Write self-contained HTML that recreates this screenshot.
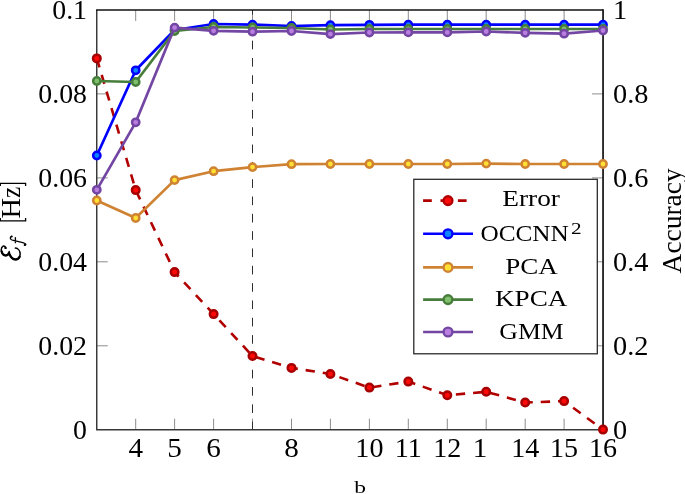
<!DOCTYPE html>
<html><head><meta charset="utf-8"><title>chart</title>
<style>
html,body{margin:0;padding:0;background:#fff;}
body{width:685px;height:494px;overflow:hidden;position:relative;font-family:"Liberation Serif",serif;}
svg text{font-family:"Liberation Serif",serif;fill:#000;}
svg text{filter:grayscale(1);}
</style></head><body>
<svg width="685" height="494" viewBox="0 0 685 494" style="position:absolute;left:0;top:0">
<rect width="685" height="494" fill="#fff"/>
<g stroke="#808080" stroke-width="0.9" fill="none"><path d="M135.7 429.7 v-11 M135.7 10.0 v11"/><path d="M174.6 429.7 v-11 M174.6 10.0 v11"/><path d="M213.6 429.7 v-11 M213.6 10.0 v11"/><path d="M252.5 429.7 v-11 M252.5 10.0 v11"/><path d="M291.5 429.7 v-11 M291.5 10.0 v11"/><path d="M330.4 429.7 v-11 M330.4 10.0 v11"/><path d="M369.4 429.7 v-11 M369.4 10.0 v11"/><path d="M408.3 429.7 v-11 M408.3 10.0 v11"/><path d="M447.3 429.7 v-11 M447.3 10.0 v11"/><path d="M486.2 429.7 v-11 M486.2 10.0 v11"/><path d="M525.2 429.7 v-11 M525.2 10.0 v11"/><path d="M564.1 429.7 v-11 M564.1 10.0 v11"/><path d="M96.75 345.8 h11 M603.05 345.8 h-11"/><path d="M96.75 261.8 h11 M603.05 261.8 h-11"/><path d="M96.75 177.9 h11 M603.05 177.9 h-11"/><path d="M96.75 93.9 h11 M603.05 93.9 h-11"/></g>
<path d="M252.5 10.0 V429.7" stroke="#2e2e2e" stroke-width="1.0" stroke-dasharray="8.66 8.66" stroke-dashoffset="4.0" fill="none"/>
<path d="M96.75 10.0 V429.7" stroke="#303030" stroke-width="1.4" fill="none"/>
<path d="M96.05 429.7 H603.05" stroke="#383838" stroke-width="1.6" fill="none"/>
<polyline points="96.8,58.4 135.7,190.1 174.6,272.1 213.6,314.1 252.5,356.0 291.5,367.9 330.4,374.0 369.4,387.6 408.3,381.6 447.3,395.2 486.2,391.8 525.2,402.5 564.1,401.1 603.0,429.6" fill="none" stroke="#b00000" stroke-width="2.6" stroke-dasharray="9.32 7.97" />
<path d="M96.05 10.0 H603.05" stroke="#111" stroke-width="1.4" fill="none"/>
<path d="M603.05 9.3 V430.5" stroke="#111" stroke-width="1.7" fill="none"/>
<circle cx="96.8" cy="58.4" r="3.75" fill="#ff0808" stroke="#a60000" stroke-width="2.5"/><circle cx="135.7" cy="190.1" r="3.75" fill="#ff0808" stroke="#a60000" stroke-width="2.5"/><circle cx="174.6" cy="272.1" r="3.75" fill="#ff0808" stroke="#a60000" stroke-width="2.5"/><circle cx="213.6" cy="314.1" r="3.75" fill="#ff0808" stroke="#a60000" stroke-width="2.5"/><circle cx="252.5" cy="356.0" r="3.75" fill="#ff0808" stroke="#a60000" stroke-width="2.5"/><circle cx="291.5" cy="367.9" r="3.75" fill="#ff0808" stroke="#a60000" stroke-width="2.5"/><circle cx="330.4" cy="374.0" r="3.75" fill="#ff0808" stroke="#a60000" stroke-width="2.5"/><circle cx="369.4" cy="387.6" r="3.75" fill="#ff0808" stroke="#a60000" stroke-width="2.5"/><circle cx="408.3" cy="381.6" r="3.75" fill="#ff0808" stroke="#a60000" stroke-width="2.5"/><circle cx="447.3" cy="395.2" r="3.75" fill="#ff0808" stroke="#a60000" stroke-width="2.5"/><circle cx="486.2" cy="391.8" r="3.75" fill="#ff0808" stroke="#a60000" stroke-width="2.5"/><circle cx="525.2" cy="402.5" r="3.75" fill="#ff0808" stroke="#a60000" stroke-width="2.5"/><circle cx="564.1" cy="401.1" r="3.75" fill="#ff0808" stroke="#a60000" stroke-width="2.5"/><circle cx="603.0" cy="429.6" r="3.75" fill="#ff0808" stroke="#a60000" stroke-width="2.5"/>
<polyline points="96.8,155.5 135.7,70.3 174.6,30.0 213.6,24.0 252.5,24.6 291.5,26.0 330.4,25.2 369.4,24.8 408.3,24.7 447.3,24.7 486.2,24.7 525.2,24.7 564.1,24.7 603.0,24.7" fill="none" stroke="#0000ff" stroke-width="2.7" stroke-linejoin="round"/>
<circle cx="96.8" cy="155.5" r="3.65" fill="#0a84ff" stroke="#0000ff" stroke-width="2.5"/><circle cx="135.7" cy="70.3" r="3.65" fill="#0a84ff" stroke="#0000ff" stroke-width="2.5"/><circle cx="174.6" cy="30.0" r="3.65" fill="#0a84ff" stroke="#0000ff" stroke-width="2.5"/><circle cx="213.6" cy="24.0" r="3.65" fill="#0a84ff" stroke="#0000ff" stroke-width="2.5"/><circle cx="252.5" cy="24.6" r="3.65" fill="#0a84ff" stroke="#0000ff" stroke-width="2.5"/><circle cx="291.5" cy="26.0" r="3.65" fill="#0a84ff" stroke="#0000ff" stroke-width="2.5"/><circle cx="330.4" cy="25.2" r="3.65" fill="#0a84ff" stroke="#0000ff" stroke-width="2.5"/><circle cx="369.4" cy="24.8" r="3.65" fill="#0a84ff" stroke="#0000ff" stroke-width="2.5"/><circle cx="408.3" cy="24.7" r="3.65" fill="#0a84ff" stroke="#0000ff" stroke-width="2.5"/><circle cx="447.3" cy="24.7" r="3.65" fill="#0a84ff" stroke="#0000ff" stroke-width="2.5"/><circle cx="486.2" cy="24.7" r="3.65" fill="#0a84ff" stroke="#0000ff" stroke-width="2.5"/><circle cx="525.2" cy="24.7" r="3.65" fill="#0a84ff" stroke="#0000ff" stroke-width="2.5"/><circle cx="564.1" cy="24.7" r="3.65" fill="#0a84ff" stroke="#0000ff" stroke-width="2.5"/><circle cx="603.0" cy="24.7" r="3.65" fill="#0a84ff" stroke="#0000ff" stroke-width="2.5"/>
<polyline points="96.8,200.5 135.7,218.0 174.6,180.1 213.6,171.2 252.5,167.1 291.5,164.2 330.4,164.0 369.4,164.0 408.3,164.0 447.3,164.0 486.2,163.6 525.2,164.0 564.1,164.0 603.0,164.0" fill="none" stroke="#cf8232" stroke-width="2.7" stroke-linejoin="round"/>
<circle cx="96.8" cy="200.5" r="3.65" fill="#ffe033" stroke="#cf8232" stroke-width="2.5"/><circle cx="135.7" cy="218.0" r="3.65" fill="#ffe033" stroke="#cf8232" stroke-width="2.5"/><circle cx="174.6" cy="180.1" r="3.65" fill="#ffe033" stroke="#cf8232" stroke-width="2.5"/><circle cx="213.6" cy="171.2" r="3.65" fill="#ffe033" stroke="#cf8232" stroke-width="2.5"/><circle cx="252.5" cy="167.1" r="3.65" fill="#ffe033" stroke="#cf8232" stroke-width="2.5"/><circle cx="291.5" cy="164.2" r="3.65" fill="#ffe033" stroke="#cf8232" stroke-width="2.5"/><circle cx="330.4" cy="164.0" r="3.65" fill="#ffe033" stroke="#cf8232" stroke-width="2.5"/><circle cx="369.4" cy="164.0" r="3.65" fill="#ffe033" stroke="#cf8232" stroke-width="2.5"/><circle cx="408.3" cy="164.0" r="3.65" fill="#ffe033" stroke="#cf8232" stroke-width="2.5"/><circle cx="447.3" cy="164.0" r="3.65" fill="#ffe033" stroke="#cf8232" stroke-width="2.5"/><circle cx="486.2" cy="163.6" r="3.65" fill="#ffe033" stroke="#cf8232" stroke-width="2.5"/><circle cx="525.2" cy="164.0" r="3.65" fill="#ffe033" stroke="#cf8232" stroke-width="2.5"/><circle cx="564.1" cy="164.0" r="3.65" fill="#ffe033" stroke="#cf8232" stroke-width="2.5"/><circle cx="603.0" cy="164.0" r="3.65" fill="#ffe033" stroke="#cf8232" stroke-width="2.5"/>
<polyline points="96.8,81.0 135.7,82.0 174.6,31.0 213.6,27.0 252.5,27.5 291.5,28.0 330.4,29.5 369.4,29.0 408.3,29.0 447.3,29.0 486.2,29.0 525.2,29.0 564.1,29.0 603.0,29.0" fill="none" stroke="#477d3a" stroke-width="2.7" stroke-linejoin="round"/>
<circle cx="96.8" cy="81.0" r="3.65" fill="#80c06c" stroke="#477d3a" stroke-width="2.5"/><circle cx="135.7" cy="82.0" r="3.65" fill="#80c06c" stroke="#477d3a" stroke-width="2.5"/><circle cx="174.6" cy="31.0" r="3.65" fill="#80c06c" stroke="#477d3a" stroke-width="2.5"/><circle cx="213.6" cy="27.0" r="3.65" fill="#80c06c" stroke="#477d3a" stroke-width="2.5"/><circle cx="252.5" cy="27.5" r="3.65" fill="#80c06c" stroke="#477d3a" stroke-width="2.5"/><circle cx="291.5" cy="28.0" r="3.65" fill="#80c06c" stroke="#477d3a" stroke-width="2.5"/><circle cx="330.4" cy="29.5" r="3.65" fill="#80c06c" stroke="#477d3a" stroke-width="2.5"/><circle cx="369.4" cy="29.0" r="3.65" fill="#80c06c" stroke="#477d3a" stroke-width="2.5"/><circle cx="408.3" cy="29.0" r="3.65" fill="#80c06c" stroke="#477d3a" stroke-width="2.5"/><circle cx="447.3" cy="29.0" r="3.65" fill="#80c06c" stroke="#477d3a" stroke-width="2.5"/><circle cx="486.2" cy="29.0" r="3.65" fill="#80c06c" stroke="#477d3a" stroke-width="2.5"/><circle cx="525.2" cy="29.0" r="3.65" fill="#80c06c" stroke="#477d3a" stroke-width="2.5"/><circle cx="564.1" cy="29.0" r="3.65" fill="#80c06c" stroke="#477d3a" stroke-width="2.5"/><circle cx="603.0" cy="29.0" r="3.65" fill="#80c06c" stroke="#477d3a" stroke-width="2.5"/>
<polyline points="96.8,189.8 135.7,122.3 174.6,27.6 213.6,30.8 252.5,31.7 291.5,31.0 330.4,34.1 369.4,32.5 408.3,32.4 447.3,32.4 486.2,31.5 525.2,32.8 564.1,33.7 603.0,30.5" fill="none" stroke="#7346a3" stroke-width="2.7" stroke-linejoin="round"/>
<circle cx="96.8" cy="189.8" r="3.65" fill="#b97ee0" stroke="#7346a3" stroke-width="2.5"/><circle cx="135.7" cy="122.3" r="3.65" fill="#b97ee0" stroke="#7346a3" stroke-width="2.5"/><circle cx="174.6" cy="27.6" r="3.65" fill="#b97ee0" stroke="#7346a3" stroke-width="2.5"/><circle cx="213.6" cy="30.8" r="3.65" fill="#b97ee0" stroke="#7346a3" stroke-width="2.5"/><circle cx="252.5" cy="31.7" r="3.65" fill="#b97ee0" stroke="#7346a3" stroke-width="2.5"/><circle cx="291.5" cy="31.0" r="3.65" fill="#b97ee0" stroke="#7346a3" stroke-width="2.5"/><circle cx="330.4" cy="34.1" r="3.65" fill="#b97ee0" stroke="#7346a3" stroke-width="2.5"/><circle cx="369.4" cy="32.5" r="3.65" fill="#b97ee0" stroke="#7346a3" stroke-width="2.5"/><circle cx="408.3" cy="32.4" r="3.65" fill="#b97ee0" stroke="#7346a3" stroke-width="2.5"/><circle cx="447.3" cy="32.4" r="3.65" fill="#b97ee0" stroke="#7346a3" stroke-width="2.5"/><circle cx="486.2" cy="31.5" r="3.65" fill="#b97ee0" stroke="#7346a3" stroke-width="2.5"/><circle cx="525.2" cy="32.8" r="3.65" fill="#b97ee0" stroke="#7346a3" stroke-width="2.5"/><circle cx="564.1" cy="33.7" r="3.65" fill="#b97ee0" stroke="#7346a3" stroke-width="2.5"/><circle cx="603.0" cy="30.5" r="3.65" fill="#b97ee0" stroke="#7346a3" stroke-width="2.5"/>
<rect x="413.8" y="179.3" width="183.5" height="174.5" fill="#fff" stroke="#222" stroke-width="1.25"/>
<path d="M423.1 200.6 H473" stroke="#b00000" stroke-width="2.6" stroke-dasharray="8.7 8.7" fill="none"/>
<circle cx="448" cy="200.6" r="4.4" fill="#ff0808" stroke="#b00000" stroke-width="2.4"/>
<text x="502.3" y="206.2" font-size="23.5" textLength="57.6" lengthAdjust="spacingAndGlyphs">Error</text>
<path d="M423.1 233.8 H473" stroke="#0000ff" stroke-width="2.6" fill="none"/>
<circle cx="448" cy="233.8" r="4.4" fill="#0a84ff" stroke="#0000ff" stroke-width="2.4"/>
<text x="480.4" y="240.7" font-size="23.5" textLength="88.4" lengthAdjust="spacingAndGlyphs">OCCNN</text>
<text x="571.0" y="233.7" font-size="16.5" textLength="10.6" lengthAdjust="spacingAndGlyphs">2</text>
<path d="M423.1 267.4 H473" stroke="#cf8232" stroke-width="2.6" fill="none"/>
<circle cx="448" cy="267.4" r="4.4" fill="#ffe033" stroke="#cf8232" stroke-width="2.4"/>
<text x="505.2" y="273.7" font-size="23.5" textLength="52.6" lengthAdjust="spacingAndGlyphs">PCA</text>
<path d="M423.1 299.6 H473" stroke="#477d3a" stroke-width="2.6" fill="none"/>
<circle cx="448" cy="299.6" r="4.4" fill="#80c06c" stroke="#477d3a" stroke-width="2.4"/>
<text x="495.0" y="306.2" font-size="23.5" textLength="72.4" lengthAdjust="spacingAndGlyphs">KPCA</text>
<path d="M423.1 332.0 H473" stroke="#7346a3" stroke-width="2.6" fill="none"/>
<circle cx="448" cy="332.0" r="4.4" fill="#b97ee0" stroke="#7346a3" stroke-width="2.4"/>
<text x="499.3" y="338.5" font-size="23.5" textLength="64.4" lengthAdjust="spacingAndGlyphs">GMM</text>
<text transform="translate(135.70,457.30) scale(1.1,1)" font-size="26.5" text-anchor="middle">4</text>
<text transform="translate(174.64,457.30) scale(1.1,1)" font-size="26.5" text-anchor="middle">5</text>
<text transform="translate(213.59,457.30) scale(1.1,1)" font-size="26.5" text-anchor="middle">6</text>
<text transform="translate(291.48,457.30) scale(1.1,1)" font-size="26.5" text-anchor="middle">8</text>
<text transform="translate(369.37,457.30) scale(1.06,1)" font-size="26.5" text-anchor="middle">10</text>
<text transform="translate(408.32,457.30) scale(1.06,1)" font-size="26.5" text-anchor="middle">11</text>
<text transform="translate(447.27,457.30) scale(1.06,1)" font-size="26.5" text-anchor="middle">12</text>
<text transform="translate(525.16,457.30) scale(1.06,1)" font-size="26.5" text-anchor="middle">14</text>
<text transform="translate(564.10,457.30) scale(1.06,1)" font-size="26.5" text-anchor="middle">15</text>
<text transform="translate(603.05,457.30) scale(1.06,1)" font-size="26.5" text-anchor="middle">16</text>
<text transform="translate(479.91,457.30) scale(1.1,1)" font-size="26.5" text-anchor="middle">1</text>
<text transform="translate(87.00,438.50) scale(1.05,1)" font-size="26.5" text-anchor="end">0</text>
<text transform="translate(87.00,354.56) scale(1.05,1)" font-size="26.5" text-anchor="end">0.02</text>
<text transform="translate(87.00,270.62) scale(1.05,1)" font-size="26.5" text-anchor="end">0.04</text>
<text transform="translate(87.00,186.68) scale(1.05,1)" font-size="26.5" text-anchor="end">0.06</text>
<text transform="translate(87.00,102.74) scale(1.05,1)" font-size="26.5" text-anchor="end">0.08</text>
<text transform="translate(87.00,18.80) scale(1.05,1)" font-size="26.5" text-anchor="end">0.1</text>
<text transform="translate(613.00,438.50) scale(1.07,1)" font-size="26.5" text-anchor="start">0</text>
<text transform="translate(613.00,354.56) scale(1.07,1)" font-size="26.5" text-anchor="start">0.2</text>
<text transform="translate(613.00,270.62) scale(1.07,1)" font-size="26.5" text-anchor="start">0.4</text>
<text transform="translate(613.00,186.68) scale(1.07,1)" font-size="26.5" text-anchor="start">0.6</text>
<text transform="translate(613.00,102.74) scale(1.07,1)" font-size="26.5" text-anchor="start">0.8</text>
<text transform="translate(613.00,18.80) scale(1.07,1)" font-size="26.5" text-anchor="start">1</text>
<text transform="translate(680.6,273.4) rotate(-90)" font-size="27" textLength="105" lengthAdjust="spacingAndGlyphs">Accuracy</text>
<g transform="translate(19.8,260.3) rotate(-90)"><path d="M12.2 -14.0 C13.6 -14.4 14.6 -15.6 14.0 -16.9 C13.2 -18.3 11.5 -18.6 10.0 -18.5 C7.0 -18.3 4.6 -16.4 4.6 -14.0 C4.6 -12.0 6.2 -10.8 8.8 -10.6 C5.0 -10.4 0.6 -8.0 0.5 -4.0 C0.4 -1.2 3.0 0.3 6.5 0.3 C9.5 0.3 12.0 -1.8 12.2 -4.4" fill="none" stroke="#000" stroke-width="1.5" stroke-linecap="round" stroke-linejoin="round"/><path d="M9.0 -18.2 C6.6 -17.7 4.9 -16.1 4.9 -14.0 C4.9 -12.6 5.7 -11.6 7.0 -11.1" fill="none" stroke="#000" stroke-width="2.3" stroke-linecap="round"/><path d="M5.6 -10.0 C2.6 -9.0 0.9 -6.6 0.9 -4.0 C0.9 -2.2 2.0 -0.8 3.6 -0.2" fill="none" stroke="#000" stroke-width="2.3" stroke-linecap="round"/><circle cx="12.4" cy="-14.3" r="1.2" fill="#000"/><path d="M23.9 -8.2 C23.6 -9.4 22.2 -9.7 21.3 -9.2 C20.4 -8.7 20.1 -7.6 19.9 -6.5 L18.0 2.0 C17.6 3.8 17.0 5.8 15.9 6.0 C15.3 6.1 15.0 5.5 15.3 4.8 M17.6 -4.4 H22.7" fill="none" stroke="#000" stroke-width="1.35" stroke-linecap="round" stroke-linejoin="round"/><circle cx="23.8" cy="-8.1" r="1.0" fill="#000"/><circle cx="15.4" cy="4.9" r="1.0" fill="#000"/><path d="M42.3 -19.5 H39.5 V5.8 H42.3" fill="none" stroke="#000" stroke-width="1.3"/><text transform="translate(41.7,0) scale(1.07,1)" font-size="26.5">H</text><text transform="translate(62.4,0) scale(0.95,1)" font-size="26.5">z</text><path d="M74.2 -19.5 H77.0 V5.8 H74.2" fill="none" stroke="#000" stroke-width="1.3"/></g>
<text transform="translate(354.2,493) scale(1.38,1)" font-size="17">b</text>
</svg>
</body></html>
